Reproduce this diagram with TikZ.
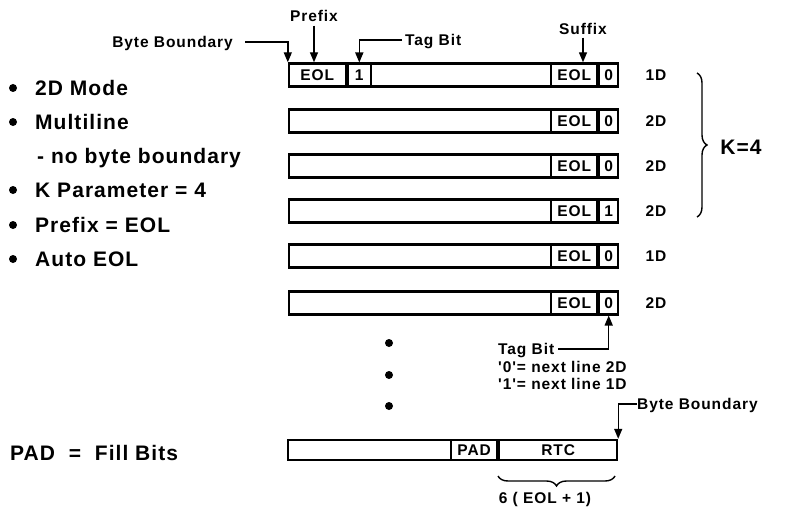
\documentclass[tikz,border=0pt]{standalone}
\usepackage{fontspec}
\usetikzlibrary{arrows.meta,decorations.pathreplacing}
\newfontfamily\helv[LetterSpace=6]{Liberation Sans}
\newfontfamily\helvg[LetterSpace=5]{Liberation Sans}
\newcommand{\petit}{\helv\bfseries\fontsize{15.5pt}{18pt}\selectfont}
\newcommand{\grand}{\helvg\bfseries\fontsize{21pt}{25pt}\selectfont}
% one coded line: name, y, tag bit, mode
\newcommand{\bande}[4]{\node[bande] (#1) at (453.5,#2) {};
	\node[case, minimum width=19pt, anchor=east] (#1t) at (#1.east) {#3};
	\node[case, minimum width=46pt, anchor=east] (#1s) at (#1t.west) {EOL};
	\node[lbl] (#1m) at (656,#2) {#4}}
% one item of the list: name, y, text
\newcommand{\puce}[3]{\node[point] (#1) at (13,#2) {};
	\node[gros] (#1x) at (35,#2) {#3}}

\tikzset{
	bande/.style={draw, line width=2.4pt, minimum width=329pt, minimum height=23pt, inner sep=0pt},
	case/.style={draw, line width=2pt, minimum height=23pt, inner sep=0pt, font=\petit},
	lbl/.style={font=\petit, inner sep=0pt, text height=11pt, text depth=0pt},
	gros/.style={font=\grand, anchor=west, inner sep=0pt, text height=15pt, text depth=0pt},
	point/.style={circle, fill, inner sep=0pt, minimum size=8pt},
	fleche/.style={line width=1.4pt, -{Triangle[length=10pt,width=8pt]}},
	accolade/.style={decorate, decoration={brace, amplitude=10pt}, line width=1.4pt}
}

\begin{document}
\begin{tikzpicture}[x=1pt, y=-1pt]
	\useasboundingbox (0,0) rectangle (794,508);
%The list
	\puce{i1}{88}{2D Mode};
	\puce{i2}{122}{Multiline};
	\node[gros] (i2b) at (37,156) {- no byte boundary};
	\puce{i3}{190}{K Parameter = 4};
	\puce{i4}{225}{Prefix = EOL};
	\puce{i5}{259}{Auto EOL};
	\node[gros] (fill) at (10,453) {PAD~~=~~Fill Bits};
%The lines
	\bande{r1}{75}{0}{1D};
	\node[case, minimum width=57pt, anchor=west] (r1p) at (r1.west) {EOL};
	\node[case, minimum width=23pt, anchor=west] (r1b) at (r1p.east) {1};
	\bande{r2}{121}{0}{2D};
	\bande{r3}{166}{0}{2D};
	\bande{r4}{211}{1}{2D};
	\bande{r5}{256}{0}{1D};
	\bande{r6}{303}{0}{2D};
%Labels on the first line
	\node[lbl, anchor=east] (bb) at (233,42) {Byte Boundary};
	\draw[fleche] ([xshift=12pt]bb.east) -| (r1.north west);
	\node[lbl] (pf) at (314,16) {Prefix};
	\draw[fleche] ([yshift=-4pt]pf.south) -- (pf.south |- r1.north);
	\node[lbl, anchor=west] (tb) at (405,40) {Tag Bit};
	\draw[fleche] ([xshift=-3pt]tb.west) -| (r1b.north);
	\node[lbl] (sf) at (583,29) {Suffix};
	\draw[fleche] ([yshift=-3pt]sf.south) -- (sf.south |- r1.north);
%K brace
	\coordinate (ka) at (697,73);
	\coordinate (kb) at (697,217);
	\draw[accolade] (ka) -- (kb);
	\node[gros, anchor=center] (k) at (741,147) {K=4};
%Tag bit of the last line
	\node[lbl, anchor=west] (tb6) at (498,349) {Tag Bit};
	\draw[fleche] ([xshift=4pt]tb6.east) -| (r6t.south);
	\node[lbl, anchor=west] (n0) at (498,367) {'0'= next line 2D};
	\node[lbl, anchor=west] (n1) at (498,384) {'1'= next line 1D};
%Dots
	\node[point] (d1) at (389,343) {};
	\node[point] (d2) at (389,375) {};
	\node[point] (d3) at (389,406) {};
%End of page
	\node[bande, minimum height=20pt] (rb) at (452.5,450) {};
	\node[case, minimum width=118pt, minimum height=20pt, anchor=east] (rbr) at (rb.east) {RTC};
	\node[case, minimum width=46pt, minimum height=20pt, anchor=east] (rbp) at (rbr.west) {PAD};
	\node[lbl, anchor=west] (bb2) at (637,404) {Byte Boundary};
	\draw[fleche] (bb2.west) -| (rb.north east);
	\coordinate (ba) at (615,476);
	\coordinate (bz) at (498,476);
	\draw[accolade] (ba) -- (bz);
	\node[lbl] (six) at (545,498) {6 ( EOL + 1)};
\end{tikzpicture}
\end{document}
